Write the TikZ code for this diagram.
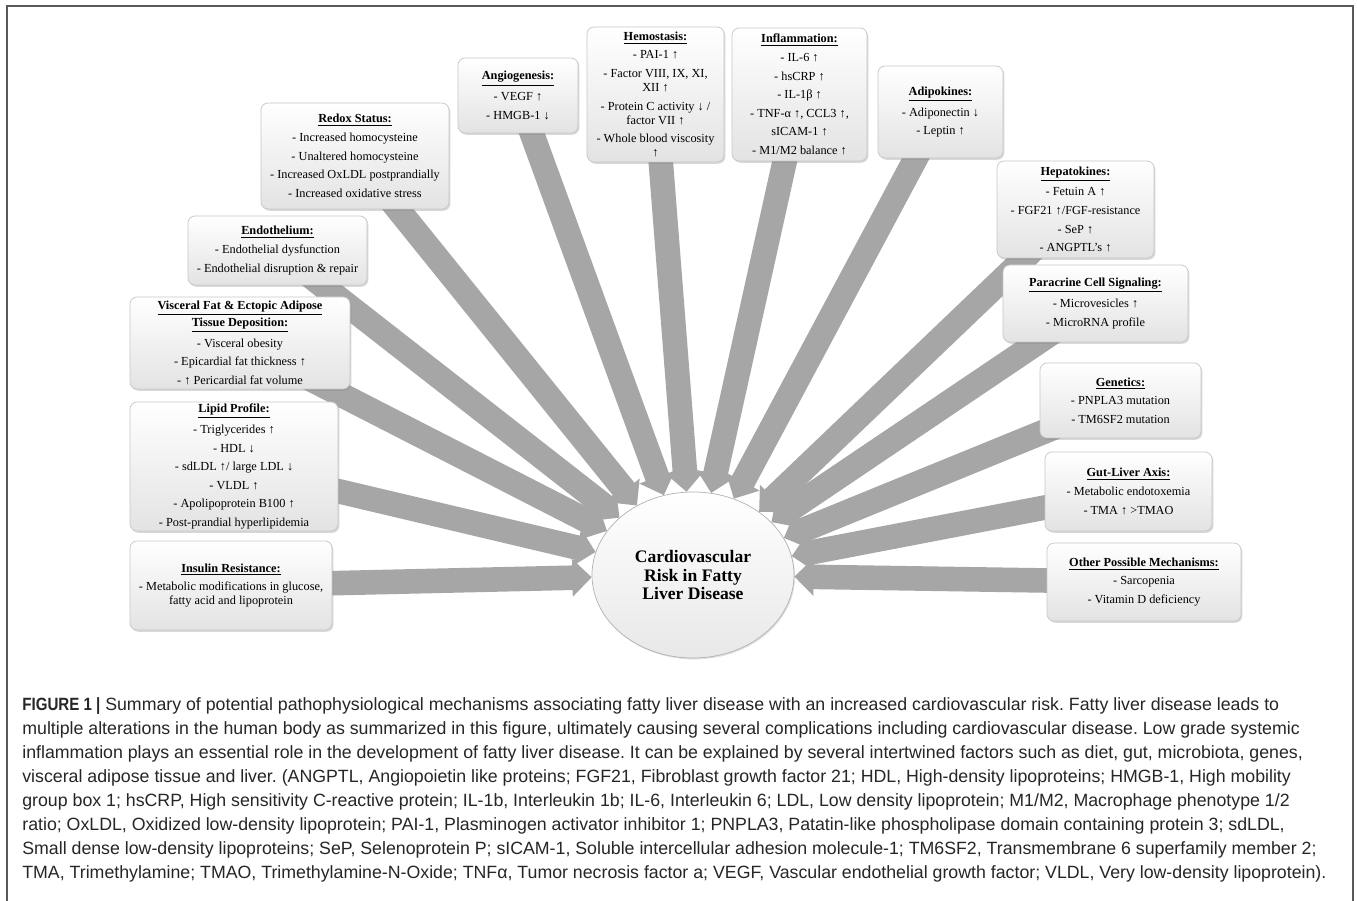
\documentclass[tikz,border=0pt]{standalone}
\usepackage{fontspec}
\setmainfont{Liberation Serif}
\newfontfamily\capfont{Liberation Sans}
\newfontfamily\capboldfont[FakeStretch=0.85]{Liberation Sans}
\usetikzlibrary{arrows.meta,shadows,shapes.geometric,backgrounds}
\newcommand{\boxhead}[1]{\underline{\textbf{#1}}}

\begin{document}
\frenchspacing
\begin{tikzpicture}[x=0.2mm, y=-0.2mm,
  mech/.style={draw=black!22, rounded corners=4pt, top color=white,
    bottom color=black!11, align=center, inner sep=1pt,
    font=\fontsize{7}{8}\selectfont,
    drop shadow={opacity=0.3, shadow xshift=0.8pt, shadow yshift=-1pt}},
  hub/.style={ellipse, draw=black!30, top color=white, bottom color=black!9,
    align=center, inner sep=0pt, font=\fontsize{10}{10.6}\selectfont\bfseries,
    drop shadow={opacity=0.25, shadow xshift=0.6pt, shadow yshift=-0.8pt}},
  bigarrow/.style={draw=black!35, line width=14pt,
    -{Triangle[width=21pt,length=11pt]}}]
\useasboundingbox (0,0) rectangle (1357,901);
% Frame
\draw[black!65, line width=1pt] (7,901) -- (7,6) -- (1353,6) -- (1353,901);
% Centre
\node[hub, minimum width=40.4mm, minimum height=33.2mm] (cvr) at (693,575)
  {Cardiovascular\\Risk in Fatty\\Liver Disease};
% Left side
\node[mech, minimum width=40.4mm, minimum height=17.8mm] (ins) at (231,585.5)
  {\boxhead{Insulin Resistance:}\\[2.6pt]
   - Metabolic modifications in glucose,\\ fatty acid and lipoprotein};
\node[mech, minimum width=41.6mm, minimum height=25.8mm] (lip) at (234,466.5)
  {\boxhead{Lipid Profile:}\\[2.6pt] - Triglycerides ↑\\[2.6pt] - HDL ↓\\[2.6pt]
   - sdLDL ↑/ large LDL ↓\\[2.6pt] - VLDL ↑\\[2.6pt] - Apolipoprotein B100 ↑\\[2.6pt]
   - Post-prandial hyperlipidemia};
\node[mech, minimum width=44mm, minimum height=18.4mm] (vis) at (240,343)
  {\boxhead{Visceral Fat \& Ectopic Adipose}\\\boxhead{Tissue Deposition:}\\[2.6pt]
   - Visceral obesity\\[2.6pt] - Epicardial fat thickness ↑\\[2.6pt]
   - ↑ Pericardial fat volume};
\node[mech, minimum width=35.8mm, minimum height=13.8mm] (endo) at (277.5,250.5)
  {\boxhead{Endothelium:}\\[2.6pt] - Endothelial dysfunction\\[2.6pt]
   - Endothelial disruption \& repair};
\node[mech, minimum width=37.6mm, minimum height=21.2mm] (red) at (355,156)
  {\boxhead{Redox Status:}\\[2.6pt] - Increased homocysteine\\[2.6pt]
   - Unaltered homocysteine\\[2.6pt] - Increased OxLDL postprandially\\[2.6pt]
   - Increased oxidative stress};
% Top
\node[mech, minimum width=24mm, minimum height=15mm] (ang) at (518,95.5)
  {\boxhead{Angiogenesis:}\\[2.6pt] - VEGF ↑\\[2.6pt] - HMGB-1 ↓};
\node[mech, minimum width=27.4mm, minimum height=27mm] (hem) at (655.5,94.5)
  {\boxhead{Hemostasis:}\\[2.6pt] - PAI-1 ↑\\[2.6pt] - Factor VIII, IX, XI,\\XII ↑\\[2.6pt]
   - Protein C activity ↓ /\\factor VII ↑\\[2.6pt] - Whole blood viscosity\\↑};
\node[mech, minimum width=27mm, minimum height=26.6mm] (inf) at (799.5,94.5)
  {\boxhead{Inflammation:}\\[2.6pt] - IL-6 ↑\\[2.6pt] - hsCRP ↑\\[2.6pt] - IL-1β ↑\\[2.6pt]
   - TNF-α ↑, CCL3 ↑,\\[2.6pt] sICAM-1 ↑\\[2.6pt] - M1/M2 balance ↑};
\node[mech, minimum width=25mm, minimum height=18.4mm] (adi) at (940.5,112)
  {\boxhead{Adipokines:}\\[2.6pt] - Adiponectin ↓\\[2.6pt] - Leptin ↑};
% Right side
\node[mech, minimum width=31.4mm, minimum height=19.4mm] (hep) at (1075.5,209.5)
  {\boxhead{Hepatokines:}\\[2.6pt] - Fetuin A ↑\\[2.6pt] - FGF21 ↑/FGF-resistance\\[2.6pt]
   - SeP ↑\\[2.6pt] - ANGPTL’s ↑};
\node[mech, minimum width=37mm, minimum height=15.4mm] (par) at (1095.5,303.5)
  {\boxhead{Paracrine Cell Signaling:}\\[2.6pt] - Microvesicles ↑\\[2.6pt]
   - MicroRNA profile};
\node[mech, minimum width=32.2mm, minimum height=15mm] (gen) at (1120.5,400.5)
  {\boxhead{Genetics:}\\[2.6pt] - PNPLA3 mutation\\[2.6pt] - TM6SF2 mutation};
\node[mech, minimum width=33.4mm, minimum height=15.8mm] (gut) at (1128.5,491.5)
  {\boxhead{Gut-Liver Axis:}\\[2.6pt] - Metabolic endotoxemia\\[2.6pt] - TMA ↑ >TMAO};
\node[mech, minimum width=38.8mm, minimum height=15.6mm] (oth) at (1144,582)
  {\boxhead{Other Possible Mechanisms:}\\[2.6pt] - Sarcopenia\\[2.6pt]
   - Vitamin D deficiency};
% Arrows, under the boxes
\begin{pgfonlayer}{background}
\fill[white] (0,0) rectangle (1357,901);
\foreach \b in {ins,lip,vis,endo,red,ang,hem,inf,adi,hep,par,gen,gut,oth}
  \draw[bigarrow] (\b.center) -- (cvr);
\end{pgfonlayer}
% Caption
\node[anchor=north west, align=left, inner sep=0pt, text=black!85,
  font=\capfont\fontsize{10.1}{13.66}\selectfont] (cap) at (22,697)
  {{\capboldfont\bfseries FIGURE 1 |} Summary of potential pathophysiological mechanisms associating fatty liver disease with an increased cardiovascular risk. Fatty liver disease leads to\\
  multiple alterations in the human body as summarized in this figure, ultimately causing several complications including cardiovascular disease. Low grade systemic\\
  inflammation plays an essential role in the development of fatty liver disease. It can be explained by several intertwined factors such as diet, gut, microbiota, genes,\\
  visceral adipose tissue and liver. (ANGPTL, Angiopoietin like proteins; FGF21, Fibroblast growth factor 21; HDL, High-density lipoproteins; HMGB-1, High mobility\\
  group box 1; hsCRP, High sensitivity C-reactive protein; IL-1b, Interleukin 1b; IL-6, Interleukin 6; LDL, Low density lipoprotein; M1/M2, Macrophage phenotype 1/2\\
  ratio; OxLDL, Oxidized low-density lipoprotein; PAI-1, Plasminogen activator inhibitor 1; PNPLA3, Patatin-like phospholipase domain containing protein 3; sdLDL,\\
  Small dense low-density lipoproteins; SeP, Selenoprotein P; sICAM-1, Soluble intercellular adhesion molecule-1; TM6SF2, Transmembrane 6 superfamily member 2;\\
  TMA, Trimethylamine; TMAO, Trimethylamine-N-Oxide; TNFα, Tumor necrosis factor a; VEGF, Vascular endothelial growth factor; VLDL, Very low-density lipoprotein).};
\end{tikzpicture}
\end{document}
